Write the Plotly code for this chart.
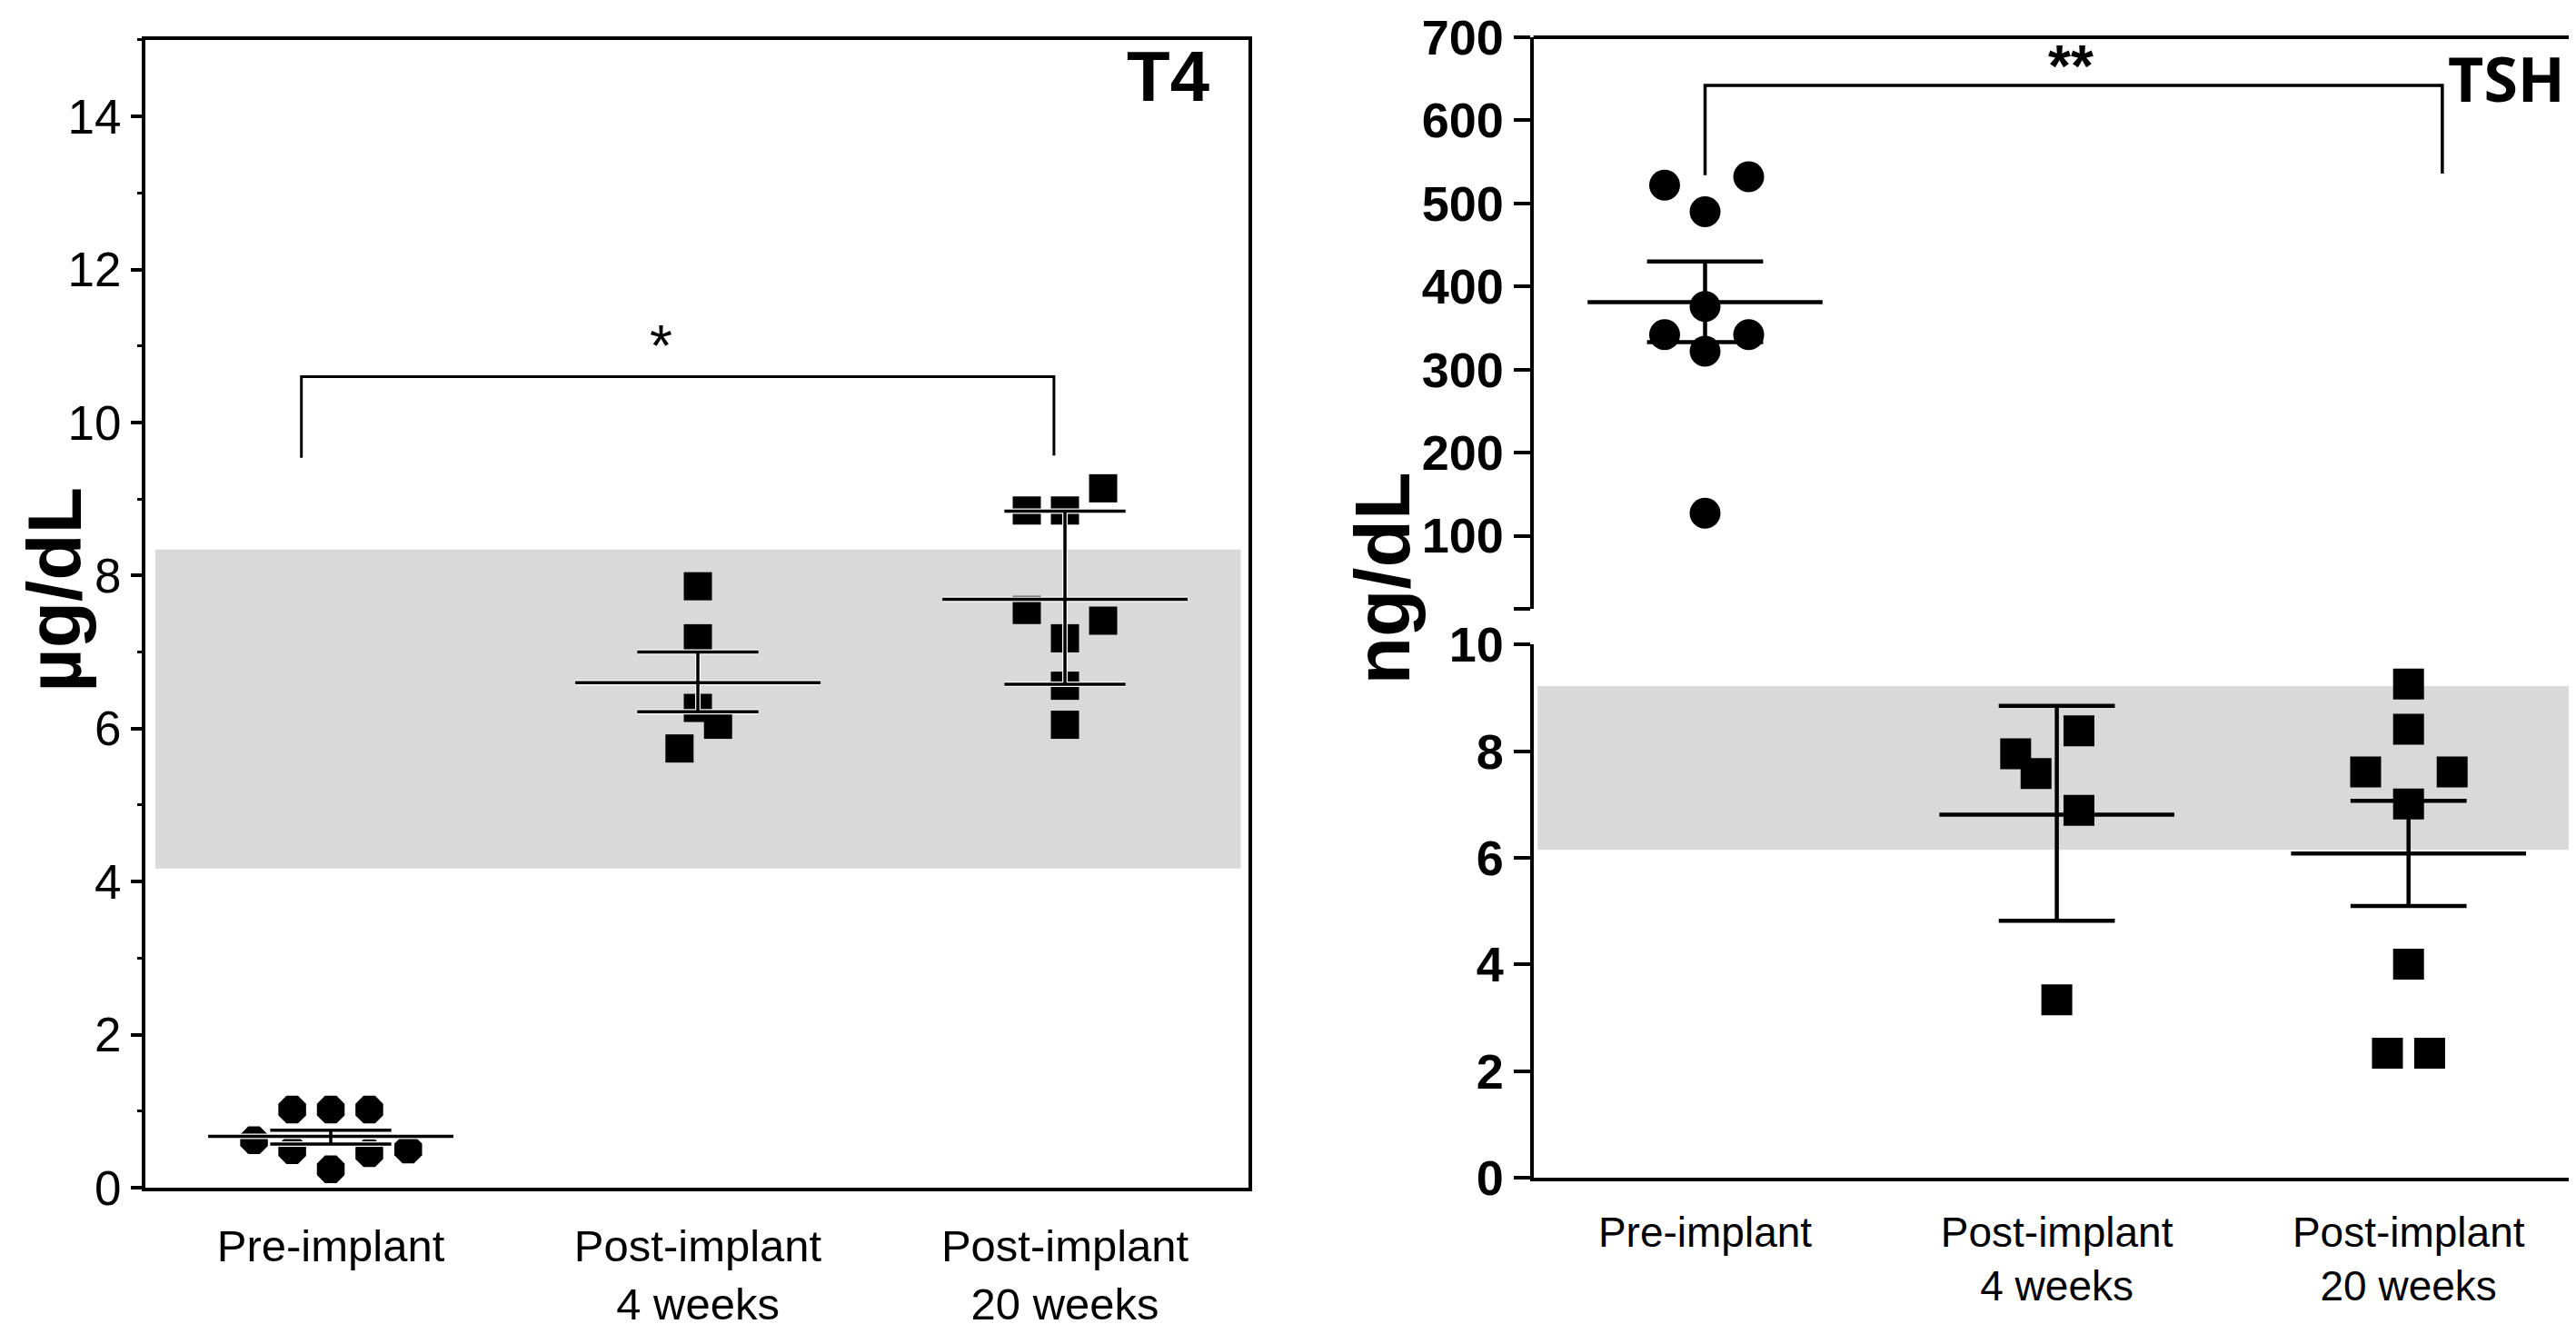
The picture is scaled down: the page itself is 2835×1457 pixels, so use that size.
import plotly.graph_objects as go

# group labels (x axis)
groups = ['Pre-implant', 'Post-implant<br>4 weeks', 'Post-implant<br>20 weeks']

# ---- T4 (ug/dL) ----
t4_pre_dx = [-0.209, -0.105, 0.0, 0.105, -0.105, 0.0, 0.105, 0.211]
t4_pre = [0.62, 1.02, 1.02, 1.02, 0.49, 0.24, 0.45, 0.50]
t4_w4_dx = [0.0, 0.0, 0.0, 0.055, -0.05]
t4_w4 = [7.86, 7.18, 6.27, 6.05, 5.74]
t4_w20_dx = [0.104, -0.104, 0.0, -0.104, 0.104, 0.0, 0.0, 0.0]
t4_w20 = [9.14, 8.85, 8.85, 7.55, 7.41, 7.18, 6.56, 6.05]
t4_mean = [0.67, 6.60, 7.69]
t4_upper = [0.75, 7.00, 8.84]
t4_lower = [0.57, 6.22, 6.58]
t4_ref = [4.17, 8.34]
t4_sig_x = [-0.08, 1.97]
t4_sig_y = [9.54, 10.6, 9.57]

# ---- TSH (ng/dL) ----
tsh_pre_dx = [-0.115, 0.124, 0.0, 0.0, -0.115, 0.124, 0.0, 0.0]
tsh_pre = [522, 532, 490, 376, 342, 342, 322, 127]
tsh_w4_dx = [-0.117, -0.059, 0.063, 0.063, 0.0]
tsh_w4 = [7.95, 7.58, 8.38, 6.89, 3.34]
tsh_w20_dx = [0.0, 0.0, -0.122, 0.124, 0.0, 0.0, -0.06, 0.06]
tsh_w20 = [9.26, 8.41, 7.61, 7.61, 7.01, 4.01, 2.34, 2.34]
tsh_mean = [381, 6.81, 6.08]
tsh_upper = [430, 8.85, 7.07]
tsh_lower = [333, 4.82, 5.10]
tsh_ref = [6.15, 9.22]
tsh_sig_x = [0.0, 2.096]
tsh_sig_y = [534, 642, 536]
tsh_upper_ticks = [100, 200, 300, 400, 500, 600, 700]

MEAN_HALF = 0.334
CAP_HALF = 0.165
FONT = 'Liberation Sans, Arial'
BREAK_LOW = 12  # bottom of the upper (broken) TSH axis


def whisker(c, m, hi, lo):
    xs = [c - MEAN_HALF, c + MEAN_HALF, None, c - CAP_HALF, c + CAP_HALF, None,
          c - CAP_HALF, c + CAP_HALF, None, c, c]
    ys = [m, m, None, hi, hi, None, lo, lo, None, lo, hi]
    return xs, ys


def dots(center, dx, vals, symbol, size, xa, ya):
    return go.Scatter(x=[center + d for d in dx], y=vals, mode='markers', xaxis=xa, yaxis=ya,
                      marker=dict(symbol=symbol, size=size, color='black', line=dict(width=0)),
                      showlegend=False, hoverinfo='y')


fig = go.Figure()

# T4 panel
fig.add_trace(dots(0, t4_pre_dx, t4_pre, 'octagon', 33, 'x', 'y'))
fig.add_trace(dots(1, t4_w4_dx, t4_w4, 'square', 31, 'x', 'y'))
fig.add_trace(dots(2, t4_w20_dx, t4_w20, 'square', 31, 'x', 'y'))
for width, col in [(6, 'white'), (3.5, 'black')]:
    for i in range(3):
        xs, ys = whisker(i, t4_mean[i], t4_upper[i], t4_lower[i])
        fig.add_trace(go.Scatter(x=xs, y=ys, mode='lines', xaxis='x', yaxis='y',
                                 line=dict(color=col, width=width), showlegend=False, hoverinfo='skip'))
fig.add_trace(go.Scatter(x=[t4_sig_x[0], t4_sig_x[0], t4_sig_x[1], t4_sig_x[1]],
                         y=[t4_sig_y[0], t4_sig_y[1], t4_sig_y[1], t4_sig_y[2]],
                         mode='lines', line=dict(color='black', width=3), showlegend=False, hoverinfo='skip'))

# TSH panel (pre-implant on upper broken axis)
fig.add_trace(dots(0, tsh_pre_dx, tsh_pre, 'circle', 34, 'x2', 'y4'))
fig.add_trace(dots(1, tsh_w4_dx, tsh_w4, 'square', 34, 'x2', 'y3'))
fig.add_trace(dots(2, tsh_w20_dx, tsh_w20, 'square', 34, 'x2', 'y3'))
for i in range(3):
    xs, ys = whisker(i, tsh_mean[i], tsh_upper[i], tsh_lower[i])
    fig.add_trace(go.Scatter(x=xs, y=ys, mode='lines', xaxis='x2', yaxis='y4' if i == 0 else 'y3',
                             line=dict(color='black', width=4.5), showlegend=False, hoverinfo='skip'))
fig.add_trace(go.Scatter(x=[tsh_sig_x[0], tsh_sig_x[0], tsh_sig_x[1], tsh_sig_x[1]],
                         y=[tsh_sig_y[0], tsh_sig_y[1], tsh_sig_y[1], tsh_sig_y[2]],
                         mode='lines', xaxis='x2', yaxis='y4',
                         line=dict(color='black', width=3.5), showlegend=False, hoverinfo='skip'))

# reference ranges (grey bands)
fig.add_shape(type='rect', xref='x domain', yref='y', x0=0.009, x1=0.993, y0=t4_ref[0], y1=t4_ref[1],
              fillcolor='#d9d9d9', line_width=0, layer='below')
fig.add_shape(type='rect', xref='x2 domain', yref='y3', x0=0.004, x1=1, y0=tsh_ref[0], y1=tsh_ref[1],
              fillcolor='#d9d9d9', line_width=0, layer='below')

# TSH frame: top and right edges across the break
fig.add_shape(type='line', xref='x2 domain', yref='paper', x0=0, x1=1, y0=1, y1=1,
              line=dict(color='black', width=4))
fig.add_shape(type='line', xref='x2 domain', yref='paper', x0=1, x1=1, y0=0.0084, y1=1,
              line=dict(color='black', width=4))

ax_common = dict(showgrid=False, zeroline=False, showline=True, linecolor='black', linewidth=4)

fig.update_layout(
    width=2835, height=1457,
    margin=dict(l=152, r=3, t=25, b=121),
    plot_bgcolor='white', paper_bgcolor='white',
    font=dict(family=FONT, color='black'),
    xaxis=dict(**ax_common, domain=[0, 0.453], range=[-0.505, 2.5], mirror=True, anchor='y',
               tickvals=[0, 1, 2], ticktext=groups, ticks='', ticklabelstandoff=18,
               tickfont=dict(size=49, family=FONT)),
    yaxis=dict(**ax_common, domain=[0, 0.9977], range=[0, 15], mirror=True, anchor='x',
               dtick=2, ticks='outside', ticklen=12, tickwidth=4, tickcolor='black',
               minor=dict(dtick=1, ticks='outside', ticklen=5, tickwidth=3, tickcolor='black'),
               tickfont=dict(size=53, family=FONT)),
    xaxis2=dict(**ax_common, domain=[0.570, 1], range=[-0.488, 2.489], anchor='y3',
                tickvals=[0, 1, 2], ticktext=groups, ticks='', ticklabelstandoff=16,
                tickfont=dict(size=46, family=FONT)),
    yaxis3=dict(**ax_common, domain=[0.0084, 0.4722], range=[0, 10], anchor='x2',
                dtick=2, ticks='outside', ticklen=18, tickwidth=4, tickcolor='black',
                tickfont=dict(size=54, family=FONT, weight='bold')),
    yaxis4=dict(**ax_common, domain=[0.5032, 1], range=[BREAK_LOW, 700], anchor='x2',
                tickvals=[BREAK_LOW] + tsh_upper_ticks,
                ticktext=[''] + [str(v) for v in tsh_upper_ticks],
                ticks='outside', ticklen=18, tickwidth=4, tickcolor='black',
                tickfont=dict(size=54, family=FONT, weight='bold')),
)

fig.add_annotation(text='<b>T4</b>', xref='x domain', yref='y domain', x=0.966, y=0.968,
                   xanchor='right', yanchor='middle', showarrow=False, font=dict(size=78, family=FONT))
fig.add_annotation(text='<b>TSH</b>', xref='x2 domain', yref='y4 domain', x=0.987, y=0.93,
                   xanchor='right', yanchor='middle', showarrow=False, font=dict(size=68, family='Open Sans'))
fig.add_annotation(text='*', xref='x', yref='y', x=0.9, y=11.0, showarrow=False,
                   xanchor='center', yanchor='middle', font=dict(size=64, family=FONT))
fig.add_annotation(text='<b>**</b>', xref='x2', yref='y4', x=1.04, y=665, showarrow=False,
                   xanchor='center', yanchor='middle', font=dict(size=64, family=FONT))
fig.add_annotation(text='<b>µg/dL</b>', xref='paper', yref='paper', x=-0.0373, y=0.52,
                   xanchor='center', yanchor='middle',
                   textangle=-90, showarrow=False, font=dict(size=84, family=FONT))
fig.add_annotation(text='<b>ng/dL</b>', xref='paper', yref='paper', x=0.508, y=0.53,
                   xanchor='center', yanchor='middle',
                   textangle=-90, showarrow=False, font=dict(size=86, family=FONT))

fig.write_html('out.html')
